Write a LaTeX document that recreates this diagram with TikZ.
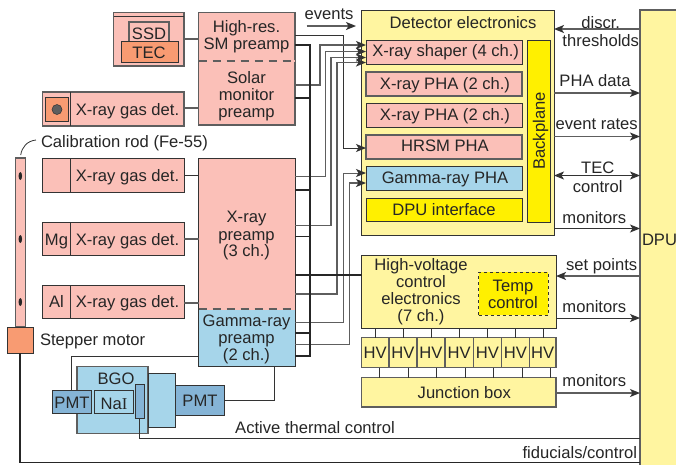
\documentclass[tikz,border=0pt]{standalone}
\usepackage{fontspec}
\setmainfont{Liberation Sans}
\newfontfamily\serifI{Liberation Serif}
\usetikzlibrary{arrows.meta,calc,shapes.geometric}
\definecolor{pinkf}{HTML}{FBC0B8}
\definecolor{orangef}{HTML}{F89B72}
\definecolor{paley}{HTML}{FFF5A0}
\definecolor{yel}{HTML}{FFF000}
\definecolor{bluef}{HTML}{A6D5EA}
\definecolor{blued}{HTML}{85B4D6}
\definecolor{edge}{HTML}{333333}
\definecolor{edgeg}{HTML}{5E5E5E}
\definecolor{txt}{HTML}{262626}
\tikzset{
  basebox/.style={draw=edge,line width=1pt,inner sep=0pt,outer sep=0pt},
  softbox/.style={basebox,draw=edgeg,line width=1.2pt},
  pinkbox/.style={basebox,fill=pinkf},
  pinksoft/.style={softbox,fill=pinkf},
  orangebox/.style={basebox,fill=orangef},
  pmtbox/.style={basebox,fill=blued},
  mltxt/.style={inner sep=0pt,outer sep=0pt,text=txt,align=center,
     font=\fontsize{16.6}{17}\selectfont},
  txtlab/.style={mltxt,text height=12pt,text depth=3.5pt},
  thin wire/.style={draw=edge,line width=1pt},
  sig/.style={draw=edgeg,line width=1.4pt},
  bus/.style={draw=black!85,line width=1.8pt},
  arr/.style={-{Stealth[length=10pt,width=8pt,inset=2.5pt]},draw=edge,line width=1pt},
  arrg/.style={-{Stealth[length=10pt,width=8pt,inset=2.5pt,color=edge]},draw=edgeg,line width=1.4pt},
  arrb/.style={{Stealth[length=10pt,width=8pt,inset=2.5pt]}-{Stealth[length=10pt,width=8pt,inset=2.5pt]},draw=edge,line width=1pt},
}
\newcommand{\mybox}[7]{%
  \pgfmathsetmacro\bxw{#4-#2}\pgfmathsetmacro\bxh{#5-#3}%
  \pgfmathsetmacro\bxc{(#4+#2)/2}\pgfmathsetmacro\bxd{(#5+#3)/2}%
  \node[#6,minimum width=\bxw pt,minimum height=\bxh pt] (#1) at (\bxc,\bxd) {#7};}
\newcommand{\mylab}[4]{\node[txtlab] (#1) at (#2,#3) {#4};}
\newcommand{\mymulti}[4]{\node[mltxt] (#1) at (#2,#3) {#4};}
\begin{document}
\begin{tikzpicture}[x=1pt,y=-1pt]
\useasboundingbox (0,0) rectangle (676,464);
\fill[white] (0,0) rectangle (676,464);
% --- solar monitor detectors
\mybox{ssdh}{113.5}{12.5}{184}{66}{pinksoft}{}
\draw[thin wire] (ssdh.west |- 0,16) -- (ssdh.east |- 0,16);
\mybox{ssd}{129}{22}{169}{41.5}{softbox}{}
\mybox{tec}{121}{41.5}{178}{62}{orangebox}{}
\mylab{ssdt}{149}{35}{SSD}
\mylab{tect}{149}{54.5}{TEC}
\mybox{hr}{198.5}{12.5}{295}{61}{softbox,fill=pinkf}{}
\mybox{solar}{198.5}{61}{295}{125}{softbox,fill=pinkf}{}
\draw[pinkf,line width=1.2pt] (hr.south west) -- (hr.south east);
\draw[edgeg,line width=1.2pt,dash pattern=on 8pt off 6pt] (hr.south west) -- (hr.south east);
\mymulti{hrt}{246.5}{36.3}{High-res.\\SM preamp}
\mymulti{solart}{246.5}{96.5}{Solar\\monitor\\preamp}
\mybox{gas0}{42.5}{92}{184}{126}{pinksoft}{}
\mybox{win0}{45}{97}{68.5}{121}{orangebox}{}
\node[circle,fill=edgeg,draw=edge,line width=.5pt,minimum size=10pt,inner sep=0pt] (src0) at (57,109.5) {};
\draw[thin wire] (70.5,92) -- (70.5,126);
\mylab{g0}{127.5}{110.75}{X-ray gas det.}
% --- calibration rod
\mybox{rod}{15.5}{158}{25.5}{327}{softbox,fill=pinkf}{}
\foreach \yy/\nn in {176/a,239/b,302/c}
  \node[ellipse,fill=black!85,minimum width=3.5pt,minimum height=8pt,inner sep=0pt] (dot\nn) at (20.3,\yy) {};
\mybox{stepper}{7.5}{327}{33}{353}{orangebox}{}
\node[txtlab,anchor=west] (calib) at (41,143.4) {Calibration rod (Fe-55)};
\node[txtlab,anchor=west] (stept) at (40,341.7) {Stepper motor};
\coordinate (curveA) at (20.7,155);
\coordinate (curveB) at (36,140);
\draw[thin wire,line width=.8pt] (curveA) .. controls (22,147) and (27,141) .. (curveB);
% --- gas detectors
\mybox{gas1}{42.5}{158}{184}{192.5}{pinkbox}{}
\mybox{gas2}{42.5}{222}{184}{255}{pinkbox}{}
\mybox{gas3}{42.5}{285}{184}{318}{pinkbox}{}
\draw[thin wire] (70.5,158) -- (70.5,192.5) (70.5,222) -- (70.5,255) (70.5,285) -- (70.5,318);
\mylab{g1}{127.5}{177.45}{X-ray gas det.}
\mylab{g2}{127.5}{240.75}{X-ray gas det.}
\mylab{g3}{127.5}{303.45}{X-ray gas det.}
\mylab{mg}{56.5}{240.75}{Mg}
\mylab{al}{56.5}{303.45}{Al}
% --- preamps
\mybox{xp}{198.5}{158}{295}{309}{basebox,fill=pinkf}{}
\mybox{gp}{198.5}{309}{295}{366}{basebox,fill=bluef}{}
\draw[pinkf,line width=1.1pt] (gp.north west) -- (gp.north east);
\draw[edgeg,line width=1.4pt,dash pattern=on 8pt off 6pt] (gp.north west) -- (gp.north east);
\mymulti{xpt}{246.5}{236}{X-ray\\preamp\\(3 ch.)}
\mymulti{gpt}{246.5}{339.2}{Gamma-ray\\preamp\\(2 ch.)}
% detector to preamp wires
\draw[sig] (ssdh.east |- 0,39) -- (hr.west |- 0,39);
\draw[sig] (gas0.east |- 0,108) -- (solar.west |- 0,108);
\draw[thin wire] (gas1.east |- 0,175) -- (xp.west |- 0,175);
\draw[sig] (gas2.east |- 0,239) -- (xp.west |- 0,239);
\draw[sig] (gas3.east |- 0,303) -- (xp.west |- 0,303);
% --- gamma detector
\mybox{bgo}{77}{366.5}{148}{433.5}{softbox,fill=bluef}{}
\mybox{lg}{148}{373}{175.5}{427.5}{basebox,fill=bluef}{}
\mybox{pmtr}{175.5}{385}{224}{415}{pmtbox}{}
\mybox{pmtl}{52.5}{390}{91}{413.5}{pmtbox}{}
\mybox{nai}{94}{390}{133}{413.5}{basebox,fill=bluef}{}
\mybox{heat}{135.5}{384}{144}{418}{pmtbox}{}
\mylab{bgot}{116}{379.75}{BGO}
\mylab{pmtlt}{72}{404}{PMT}
\mylab{nait}{114}{404.75}{Na{\serifI I}}
\mylab{pmtrt}{200}{402.4}{PMT}
\draw[thin wire] (gp.west |- 0,356.7) -| (pmtl.north -| 71.7,0);
\draw[thin wire] (pmtr.east |- 0,400) -| (gp.south -| 274.5,0);
% --- detector electronics
\mybox{de}{361.5}{10}{554}{235}{basebox,fill=paley}{}
\mylab{det}{463}{23.75}{Detector electronics}
\mybox{shaper}{366}{40.5}{522}{64}{basebox,fill=pinkf}{}
\mybox{pha1}{366}{72}{522}{96}{softbox,fill=pinkf}{}
\mybox{pha2}{366}{103}{522}{127}{basebox,fill=pinkf}{}
\mybox{hrsm}{366}{135}{522}{159}{softbox,fill=pinkf}{}
\mybox{gpha}{366}{166}{522}{190}{basebox,fill=bluef}{}
\mybox{dpui}{366}{198}{522}{221}{basebox,fill=yel}{}
\mybox{back}{527}{40}{550}{222}{basebox,fill=yel}{}
\mylab{shapert}{445.7}{52.45}{X-ray shaper (4 ch.)}
\mylab{pha1t}{445}{84.75}{X-ray PHA (2 ch.)}
\mylab{pha2t}{445}{115.75}{X-ray PHA (2 ch.)}
\mylab{hrsmt}{445}{147.45}{HRSM PHA}
\mylab{gphat}{445}{179}{Gamma-ray PHA}
\mylab{dpuit}{444}{210.75}{DPU interface}
\node[txtlab,rotate=90] (backt) at (540.7,131) {Backplane};
% --- DPU
\mybox{dpu}{640}{10}{690}{480}{softbox,fill=paley}{}
\node[txtlab,anchor=west] (dput) at (642,241.45) {DPU};
% --- HV
\mybox{hve}{361.5}{255}{556}{328}{basebox,fill=paley}{}
\mymulti{hvet}{421}{292}{High-voltage\\control\\electronics\\(7 ch.)}
\mybox{temp}{478.5}{272}{548}{315}{basebox,fill=yel,dashed}{}
\mymulti{tempt}{513}{294.4}{Temp\\control}
\foreach \i/\a/\b/\t/\u in {1/361.5/389/375/379.3,2/389/417/403.3/408,3/417/445/431/436.3,4/445/473.3/459/465,5/473.3/501.3/487/493.3,6/501.3/529.3/515/522.3,7/529.3/556/543/550.7}{
  \mybox{hv\i}{\a}{337.5}{\b}{367.5}{softbox,fill=paley}{}
  \node[txtlab] (hvt\i) at ($(hv\i.center)+(0,1.55)$) {HV};
}
\mybox{jb}{361.5}{377.5}{556}{407}{softbox,fill=paley}{}
\mylab{jbt}{464.3}{394}{Junction box}
\foreach \i/\a/\b/\t/\u in {1/361.5/389/375/379.3,2/389/417/403.3/408,3/417/445/431/436.3,4/445/473.3/459/465,5/473.3/501.3/487/493.3,6/501.3/529.3/515/522.3,7/529.3/556/543/550.7}{
  \draw[thin wire] (hve.south -| \t,0) -- (hv\i.north -| \t,0);
  \draw[thin wire] (hv\i.south -| \u,0) -- (jb.north -| \u,0);
}
% --- signal wires to electronics
\draw[thin wire,arr] (hr.east |- 0,35) -| (343.5,148) -- (hrsm.west |- 0,148);
\draw[arrg] (solar.east |- 0,85) -| (320,45) -- (shaper.west |- 0,45);
\draw[arrg,line width=1pt] (xp.east |- 0,176) -| (325,51.5) -- (shaper.west |- 0,51.5);
\draw[arrg] (xp.east |- 0,225.5) -| (331,57.5) -- (shaper.west |- 0,57.5);
\draw[arrg] (xp.east |- 0,294) -| (337,62.5) -- (shaper.west |- 0,62.5);
\draw[arrg,line width=1pt] (gp.east |- 0,322) -| (343.5,173) -- (gpha.west |- 0,173);
\draw[arrg] (gp.east |- 0,344.5) -| (349.5,183) -- (gpha.west |- 0,183);
% --- power bus
\draw[bus] (hr.east |- 0,45) -| (310,356) -- (gp.east |- 0,356);
\draw[bus] (solar.east |- 0,98) -- (310,98);
\draw[bus] (xp.east |- 0,190) -- (310,190);
\draw[bus] (xp.east |- 0,236.5) -- (310,236.5);
\draw[bus] (xp.east |- 0,275) -- (hve.west |- 0,275);
\draw[bus] (gp.east |- 0,333) -- (310,333);
% --- events label
\mylab{evt}{329}{15}{events}
\coordinate (evA) at (306.5,26);
\coordinate (evB) at (356,26);
\draw[arrg] (evA) -- (evB);
% --- right side
\draw[arrg] (dpu.west |- 0,29) -- (de.east |- 0,29);
\mymulti{discr}{600.7}{31.5}{discr.\\[.6pt]thresholds}
\draw[arrg] (de.east |- 0,93) -- (dpu.west |- 0,93);
\mylab{phad}{595}{82.45}{PHA data}
\draw[arrg] (de.east |- 0,136.5) -- (dpu.west |- 0,136.5);
\mylab{evr}{596.7}{125}{event rates}
\draw[arrb] (de.east |- 0,175.5) -- (dpu.west |- 0,175.5);
\mymulti{tecc}{597.7}{177}{TEC\\[2pt]control}
\draw[arr] (de.east |- 0,228.5) -- (dpu.west |- 0,228.5);
\mylab{mon1}{594.3}{219}{monitors}
\draw[arrg] (dpu.west |- 0,276) -- (hve.east |- 0,276);
\mylab{setp}{601.7}{265.75}{set points}
\draw[arr] (hve.east |- 0,318) -- (dpu.west |- 0,318);
\mylab{mon2}{594.3}{308.45}{monitors}
\draw[arrg] (jb.east |- 0,393) -- (dpu.west |- 0,393);
\mylab{mon3}{594.3}{382.45}{monitors}
% --- bottom lines
\mylab{atc}{315}{428.75}{Active thermal control}
\draw[thin wire] (heat.south -| 139,0) |- (dpu.west |- 0,438.6);
\node[txtlab,anchor=east] (fid) at (637,453.75) {fiducials/control};
\draw[bus] (stepper.south -| 20,0) |- (dpu.west |- 0,462.5);
\end{tikzpicture}
\end{document}
